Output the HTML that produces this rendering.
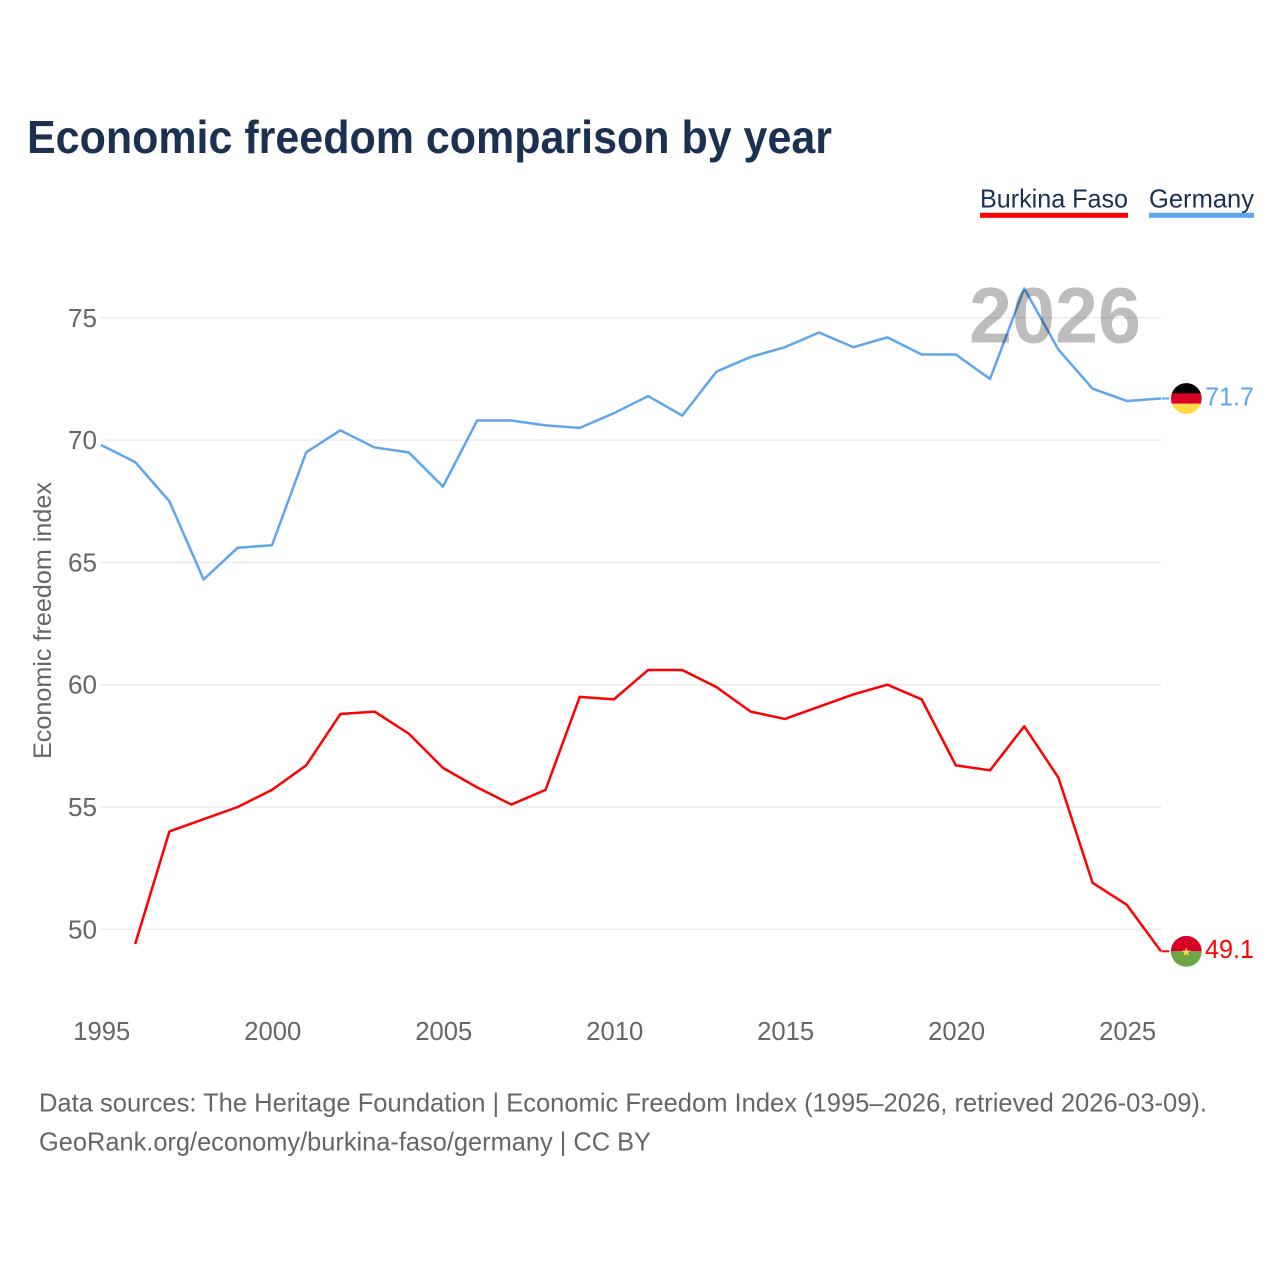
<!DOCTYPE html>
<html lang="en">
<head>
<meta charset="utf-8">
<title>Economic freedom comparison by year</title>
<style>
html,body{margin:0;padding:0;background:#fff;}
svg{display:block;font-family:"Liberation Sans",sans-serif;}
</style>
</head>
<body>
<svg id="chart" xmlns="http://www.w3.org/2000/svg" width="1280" height="1280" viewBox="0 0 1280 1280">
  <rect x="0" y="0" width="1280" height="1280" fill="#ffffff"/>
  <text x="27" y="153" font-size="46" font-weight="700" fill="#1a3152" textLength="805" lengthAdjust="spacingAndGlyphs">Economic freedom comparison by year</text>

  <g>
    <text x="980" y="207.5" font-size="26" fill="#1a3152" textLength="148" lengthAdjust="spacingAndGlyphs">Burkina Faso</text>
    <rect x="980" y="212.8" width="148" height="5" fill="#ff0000"/>
  </g>
  <g>
    <text x="1149" y="207.5" font-size="26" fill="#1a3152" textLength="105" lengthAdjust="spacingAndGlyphs">Germany</text>
    <rect x="1149" y="212.8" width="105" height="5" fill="#5fa5ec"/>
  </g>

  <g id="grid"></g>
  <g id="yticks"></g>
  <g id="xticks"></g>
  <text transform="translate(51,759) rotate(-90)" x="0" y="0" font-size="25" fill="#666666" textLength="277" lengthAdjust="spacingAndGlyphs">Economic freedom index</text>
  <g id="series"></g>
  <text x="969" y="342.5" font-size="79" font-weight="700" fill="#000000" fill-opacity="0.26" textLength="172" lengthAdjust="spacingAndGlyphs">2026</text>

  <g id="germany-end">
    <clipPath id="clip-de"><circle id="de-clip-circle" cx="1186.3" cy="398" r="15.4"/></clipPath>
    <g id="de-flag" clip-path="url(#clip-de)">
      <rect id="de-1" x="1170" width="33" height="11" fill="#000000"/>
      <rect id="de-2" x="1170" width="33" height="10.4" fill="#d80027"/>
      <rect id="de-3" x="1170" width="33" height="11" fill="#ffda44"/>
    </g>
    <text id="de-label" x="1205" font-size="26" fill="#5fa5ec" textLength="49" lengthAdjust="spacingAndGlyphs"></text>
  </g>
  <g id="burkina-end">
    <clipPath id="clip-bf"><circle id="bf-clip-circle" cx="1186.3" cy="951" r="15.4"/></clipPath>
    <g id="bf-flag" clip-path="url(#clip-bf)">
      <rect id="bf-1" x="1170" width="33" height="16" fill="#d80027"/>
      <rect id="bf-2" x="1170" width="33" height="16" fill="#6da544"/>
      <text id="bf-star" x="1186.3" font-size="12" text-anchor="middle" fill="#ffda44" style="font-family:'DejaVu Sans',sans-serif">★</text>
    </g>
    <text id="bf-label" x="1205" font-size="26" fill="#ff0000" textLength="49" lengthAdjust="spacingAndGlyphs"></text>
  </g>

  <text x="39" y="1111.5" font-size="26" fill="#666666" textLength="1168" lengthAdjust="spacingAndGlyphs">Data sources: The Heritage Foundation | Economic Freedom Index (1995–2026, retrieved 2026-03-09).</text>
  <text x="39" y="1150.5" font-size="26" fill="#666666" textLength="612" lengthAdjust="spacingAndGlyphs">GeoRank.org/economy/burkina-faso/germany | CC BY</text>
</svg>
<script>
const years = [1995,1996,1997,1998,1999,2000,2001,2002,2003,2004,2005,2006,2007,2008,2009,2010,2011,2012,2013,2014,2015,2016,2017,2018,2019,2020,2021,2022,2023,2024,2025,2026];
const germanyValues = [69.8,69.1,67.5,64.3,65.6,65.7,69.5,70.4,69.7,69.5,68.1,70.8,70.8,70.6,70.5,71.1,71.8,71.0,72.8,73.4,73.8,74.4,73.8,74.2,73.5,73.5,72.5,76.2,73.7,72.1,71.6,71.7];
const burkinaValues = [null,49.4,54.0,54.5,55.0,55.7,56.7,58.8,58.9,58.0,56.6,55.8,55.1,55.7,59.5,59.4,60.6,60.6,59.9,58.9,58.6,59.1,59.6,60.0,59.4,56.7,56.5,58.3,56.2,51.9,51.0,49.1];
const yTickValues = [50,55,60,65,70,75];
const xTickValues = [1995,2000,2005,2010,2015,2020,2025];

const NS = 'http://www.w3.org/2000/svg';
function xScale(year){ return 101 + (year - 1995) * (1161 - 101) / 31; }
function yScale(v){ return 929.3 - (v - 50) * 24.46; }
function make(tag, attrs, parent){
  const el = document.createElementNS(NS, tag);
  for (const k in attrs) el.setAttribute(k, attrs[k]);
  parent.appendChild(el);
  return el;
}

const grid = document.getElementById('grid');
const yticks = document.getElementById('yticks');
yTickValues.forEach(function(v){
  const line = make('line', {x1:101, x2:1161.5, y1:yScale(v), y2:yScale(v), stroke:'#ebebeb', 'stroke-width':1.5}, grid);
  
  
  const t = make('text', {x:97, y:yScale(v)+9, 'font-size':26, fill:'#666666', 'text-anchor':'end', textLength:29, lengthAdjust:'spacingAndGlyphs'}, yticks);
  
  
  t.textContent = v;
});

const xticks = document.getElementById('xticks');
xTickValues.forEach(function(y){
  const t = make('text', {x:xScale(y)+0.8, y:1040, 'font-size':26, fill:'#666666', 'text-anchor':'middle', textLength:57, lengthAdjust:'spacingAndGlyphs'}, xticks);
  
  
  t.textContent = y;
});

function pathFrom(values){
  let d = '';
  values.forEach(function(v, i){
    if (v === null) return;
    d += (d ? 'L' : 'M') + xScale(years[i]).toFixed(2) + ' ' + yScale(v).toFixed(2);
  });
  return d;
}
const series = document.getElementById('series');
const lineBurkina = make('path', {d:pathFrom(burkinaValues), fill:'none', stroke:'#ff0000', 'stroke-width':2.5, 'stroke-linejoin':'round'}, series);


const lineGermany = make('path', {d:pathFrom(germanyValues), fill:'none', stroke:'#5fa5ec', 'stroke-width':2.5, 'stroke-linejoin':'round'}, series);



const deLast = germanyValues[germanyValues.length - 1];
const bfLast = burkinaValues[burkinaValues.length - 1];
const deY = yScale(deLast);
const bfY = yScale(bfLast);

const connDe = make('line', {x1:1161.7, x2:1169.3, y1:deY, y2:deY, stroke:'#5fa5ec', 'stroke-width':2}, series);


const connBf = make('line', {x1:1161.7, x2:1169.3, y1:bfY, y2:bfY, stroke:'#ff0000', 'stroke-width':2}, series);



document.getElementById('de-clip-circle').setAttribute('cy', deY);
document.getElementById('de-1').setAttribute('y', deY - 16);
document.getElementById('de-2').setAttribute('y', deY - 5.2);
document.getElementById('de-3').setAttribute('y', deY + 5.2);
const deLabel = document.getElementById('de-label');
deLabel.setAttribute('y', deY + 7);
deLabel.textContent = deLast.toFixed(1);

document.getElementById('bf-clip-circle').setAttribute('cy', bfY);
document.getElementById('bf-1').setAttribute('y', bfY - 16);
document.getElementById('bf-2').setAttribute('y', bfY);
document.getElementById('bf-star').setAttribute('y', bfY + 4.5);
const bfLabel = document.getElementById('bf-label');
bfLabel.setAttribute('y', bfY + 6.5);
bfLabel.textContent = bfLast.toFixed(1);
</script>
</body>
</html>
